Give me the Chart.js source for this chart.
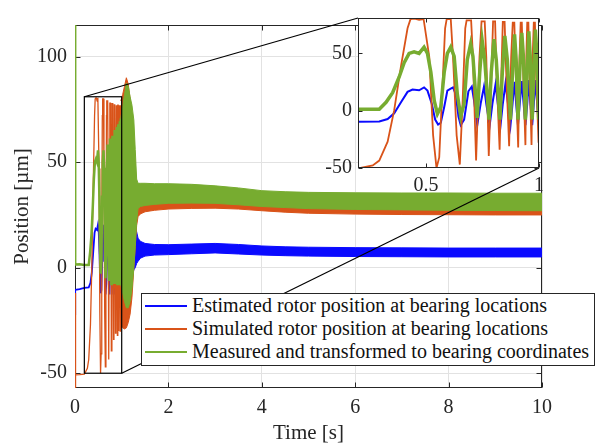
<!DOCTYPE html>
<html>
<head>
<meta charset="utf-8">
<script src="https://cdn.jsdelivr.net/npm/chart.js@4.4.1/dist/chart.umd.min.js"></script>
<style>
  html, body { margin: 0; padding: 0; background: #fff; }
  #wrap { position: relative; width: 603px; height: 448px; overflow: hidden; }
  #main { position: absolute; left: 0; top: 0; }
  #inset { position: absolute; left: 290px; top: 0; }
  #legend {
    position: absolute; left: 141px; top: 293px; width: 452px; height: 71px;
    background: #fff; border: 1px solid #262626;
    font-family: 'Liberation Serif', 'Times New Roman', serif; font-size: 20px; color: #111;
  }
  .row { position: absolute; left: 0; height: 23px; line-height: 23px; white-space: nowrap; }
  .row i { position: absolute; left: 3px; top: 11px; width: 42px; height: 2px; }
  .row span { position: absolute; left: 50px; top: 0; }
</style>
</head>
<body>
<div id="wrap">
  <canvas id="main" width="603" height="448"></canvas>
  <canvas id="inset" width="260" height="200"></canvas>
  <div id="legend">
    <div class="row" style="top:0px"><i style="background:#0a0aff"></i><span>Estimated rotor position at bearing locations</span></div>
    <div class="row" style="top:23px"><i style="background:#d95319"></i><span>Simulated rotor position at bearing locations</span></div>
    <div class="row" style="top:46px"><i style="background:#77ac30"></i><span>Measured and transformed to bearing coordinates</span></div>
  </div>
</div>
<script>
// axis ranges and ticks
const xRange = [0, 10];
const yRange = [-57, 115];
const xTicks = [0, 2, 4, 6, 8, 10];
const yTicks = [-50, 0, 50, 100];
const insetX = [0.2, 1];
const insetY = [-50, 81];
const insetXTicks = [0.5, 1];
const insetYTicks = [-50, 0, 50];

// start-up transient, read point by point (t [s], position [um])
const bluePts = [
  [0, -22], [0.004, -10.5], [0.1, -10.2], [0.199, -9.6], [0.294, -9.3], [0.331, -7.2], [0.36, -2.2],
  [0.39, 7.4], [0.419, 16.5], [0.441, 18.5], [0.47, 17.9], [0.492, 20.4], [0.507, 17.6], [0.526, 6.1],
  [0.541, -7.7], [0.554, -12.1], [0.566, -10.5], [0.581, 3.3], [0.595, 17.6], [0.61, 19.3], [0.62, 20.4],
  [0.632, 14.3], [0.644, -5], [0.654, -12.7], [0.669, -7.7], [0.688, 17], [0.703, 21.2], [0.713, 8.8],
  [0.727, -12.7], [0.742, 6.1], [0.757, 21.2], [0.767, 6.1], [0.782, -12.7], [0.794, 6.1], [0.808, 23.1],
  [0.818, 6.1], [0.83, -12.7], [0.84, 6.1], [0.852, 24], [0.863, 6.1], [0.874, -12.7], [0.883, 6.1],
  [0.892, 25.3], [0.899, 6.1], [0.907, -12.7], [0.915, 6.1], [0.924, 25.9], [0.932, 6.1], [0.94, -12.7],
  [0.948, 6.1], [0.955, 26.7], [0.962, 6.1], [0.97, -12.7], [0.977, 6.1], [0.984, 26.7], [0.992, 6.1],
  [0.999, -12.7]
];
const orangePts = [
  [0, -12], [0.003, -62], [0.02, -50.8], [0.1, -50.7], [0.2, -50.4], [0.265, -47.7], [0.294, -43.5],
  [0.331, -27], [0.36, 0.5], [0.39, 39], [0.419, 72], [0.432, 80], [0.45, 80.5], [0.47, 79.5], [0.49, 80],
  [0.515, 47], [0.532, -21.5], [0.547, -50], [0.559, -40.8], [0.573, 19.8], [0.585, 72], [0.592, 80],
  [0.61, 80], [0.62, 47], [0.636, -21.5], [0.65, -47], [0.662, 6], [0.674, 72], [0.68, 79], [0.7, 79],
  [0.708, 47], [0.722, -43.5], [0.737, 47], [0.746, 78], [0.76, 78], [0.767, 47], [0.778, -39.4],
  [0.79, 33.6], [0.797, 78], [0.806, 78], [0.812, 33.6], [0.826, -34], [0.834, 33.6], [0.84, 77.5],
  [0.848, 77.5], [0.855, 33.6], [0.868, -31], [0.877, 47], [0.884, 77], [0.891, 77], [0.897, 33.6],
  [0.908, -32], [0.914, 47], [0.919, 77], [0.924, 77], [0.93, 33.6], [0.94, -30], [0.944, 47], [0.948, 77],
  [0.953, 77], [0.958, 33.6], [0.967, -30], [0.972, 47], [0.977, 77], [0.982, 77], [0.987, 33.6],
  [0.998, -28]
];
const greenPts = [
  [0, 120], [0.004, 1.5], [0.1, 1.6], [0.199, 1.3], [0.294, 1.3], [0.324, 7.4], [0.353, 15.7],
  [0.382, 29.5], [0.404, 41.9], [0.426, 50.1], [0.448, 51.5], [0.47, 50.1], [0.492, 55.6], [0.507, 50.1],
  [0.522, 33.6], [0.537, 8.8], [0.551, -2.8], [0.566, 3.3], [0.581, 33.6], [0.595, 50.1], [0.61, 55.6],
  [0.625, 47.4], [0.639, 14.3], [0.654, -5], [0.669, 6.1], [0.683, 44.6], [0.698, 58.4], [0.708, 47.4],
  [0.727, -6.3], [0.738, 33.6], [0.749, 61.2], [0.76, 44.6], [0.779, -7.7], [0.789, 33.6], [0.801, 62.5],
  [0.811, 44.6], [0.827, -7.7], [0.838, 33.6], [0.849, 65.3], [0.86, 44.6], [0.874, -7.7], [0.883, 33.6],
  [0.892, 66.7], [0.899, 44.6], [0.907, -7.7], [0.915, 33.6], [0.924, 68], [0.932, 44.6], [0.94, -7.7],
  [0.948, 33.6], [0.955, 69.4], [0.962, 44.6], [0.97, -7.7], [0.977, 33.6], [0.984, 70.8], [0.992, 44.6],
  [0.999, -7.7]
];

// noisy part after 1 s: upper / lower envelope of each signal
const bandT    = [0.98, 1.02, 1.06, 1.1, 1.14, 1.18, 1.22, 1.26, 1.29, 1.32, 1.35, 1.4, 1.5, 1.7, 2.0, 2.5, 3.0, 3.5, 4.0, 4.5, 5.0, 6.0, 7.0, 8.0, 9.0, 10.0];
const greenHi  = [71, 76, 82, 87.5, 86, 81, 77, 70, 56, 42, 40, 40, 40, 39.8, 39.8, 39.5, 38.8, 37.8, 36.5, 36, 35.7, 35.5, 35.4, 35.4, 35.3, 35.3];
const greenLo  = [-8, -12, -16, -19, -19, -16, -10, 0, 10, 22, 28, 29, 29.5, 30, 30.5, 30.6, 30.5, 29.8, 29, 28.5, 28, 27.6, 27.4, 27.2, 27.1, 27];
const orangeHi = [79, 82, 86, 90, 87, 80, 72, 62, 48, 36, 31, 31, 31, 31.5, 32, 32, 32, 31.5, 30.5, 30, 29.5, 29, 29, 28.8, 28.6, 28.5];
const orangeLo = [-28, -28.5, -29, -28.5, -26, -22, -14, 0, 10, 20, 24.2, 25.5, 26.5, 27.2, 27.8, 28.1, 28.2, 27.8, 27, 26.3, 25.8, 25.4, 25.2, 25.1, 25, 25];
const blueHi   = [26, 26, 26, 26, 25, 24, 22, 21, 20, 17, 14, 12.5, 11.5, 11, 10.9, 11.2, 11.5, 11, 10.3, 9.9, 9.7, 9.5, 9.4, 9.3, 9.3, 9.3];
const blueLo   = [-13, -14, -15, -15, -14, -10, -5, -1, 0, 2, 3, 4.5, 5.5, 6, 6.2, 6.6, 7, 6.5, 6, 5.7, 5.5, 5.3, 5.2, 5.1, 5.1, 5.1];

const BLUE = '#0a0aff', ORANGE = '#d95319', GREEN = '#77ac30';
const AXIS = '#262626';
const INSET_LEFT = 290, INSET_TOP = 0;

Chart.defaults.font.family = "'Liberation Serif', 'Times New Roman', serif";
Chart.defaults.color = AXIS;

const pts = arr => arr.map(([x, y]) => ({ x, y }));
const band = vals => bandT.map((t, i) => ({ x: t, y: vals[i] }));
const line = (ctx, x0, y0, x1, y1) => { ctx.beginPath(); ctx.moveTo(x0, y0); ctx.lineTo(x1, y1); ctx.stroke(); };

// box round the axes with inward tick marks
function drawBox(chart, len) {
    const { ctx, chartArea: a, scales: { x, y } } = chart;
    const L = Math.round(a.left) + 0.5, R = Math.round(a.right) - 0.5;
    const T = Math.round(a.top) + 0.5, B = Math.round(a.bottom) - 0.5;
    ctx.save();
    ctx.strokeStyle = AXIS;
    ctx.lineWidth = 1;
    x.ticks.forEach(t => {
        const px = Math.round(x.getPixelForValue(t.value)) + 0.5;
        line(ctx, px, B, px, B - len);
        line(ctx, px, T, px, T + len);
    });
    y.ticks.forEach(t => {
        const py = Math.round(y.getPixelForValue(t.value)) + 0.5;
        line(ctx, L, py, L + len, py);
        line(ctx, R, py, R - len, py);
    });
    ctx.strokeRect(L, T, R - L, B - T);
    ctx.restore();
}

const mainBox = {
    id: 'mainBox',
    beforeDraw(chart) {
        const { ctx, width, height } = chart;
        ctx.save();
        ctx.fillStyle = '#fff';
        ctx.fillRect(0, 0, width, height);
        ctx.restore();
    },
    beforeDatasetsDraw(chart) { drawBox(chart, 5); }
};

const insetBox = {
    id: 'insetBox',
    beforeDraw(chart) {
        const { ctx, chartArea: a } = chart;
        ctx.save();
        ctx.fillStyle = '#fff';
        ctx.fillRect(a.left, a.top, a.right - a.left, a.bottom - a.top);
        ctx.restore();
    },
    afterDatasetsDraw(chart) { drawBox(chart, 4); }
};

let insetChart;
const zoomBox = {
    id: 'zoomBox',
    afterDraw(chart) {
        const { ctx, scales: { x, y } } = chart;
        const x0 = x.getPixelForValue(insetX[0]), x1 = x.getPixelForValue(insetX[1]);
        const y0 = y.getPixelForValue(insetY[0]), y1 = y.getPixelForValue(insetY[1]);
        const ia = insetChart.chartArea;
        ctx.save();
        ctx.strokeStyle = '#000';
        ctx.lineWidth = 1.2;
        ctx.strokeRect(x0, y1, x1 - x0, y0 - y1);
        line(ctx, x0, y1, INSET_LEFT + ia.left, INSET_TOP + ia.top);
        line(ctx, x1, y0, INSET_LEFT + ia.right, INSET_TOP + ia.bottom);
        ctx.restore();
    }
};

const lineSet = (data, color, width) => ({
    data, borderColor: color, backgroundColor: color, borderWidth: width, fill: false
});
const bandSet = (data, color, fill) => ({
    data, borderColor: color, backgroundColor: color, borderWidth: 1, fill
});

function axisOpts(range, ticks, afterFit, extra) {
    return Object.assign({
        type: 'linear', min: range[0], max: range[1],
        afterBuildTicks: s => { s.ticks = ticks.map(v => ({ value: v })); },
        afterFit,
        border: { display: false }
    }, extra);
}

const tickFont = (padding) => ({
    font: { size: 20 }, color: AXIS, padding, maxRotation: 0,
    callback: v => String(v)
});

// inset first, the main chart reads its position for the connector lines
insetChart = new Chart(document.getElementById('inset'), {
    type: 'line',
    data: {
        datasets: [
            lineSet(pts(greenPts), GREEN, 3.5),
            lineSet(pts(orangePts), ORANGE, 1.8),
            lineSet(pts(bluePts), BLUE, 2)
        ]
    },
    options: {
        responsive: false,
        animation: false,
        layout: { padding: { top: 9, right: 10, left: 0, bottom: 0 } },
        plugins: { legend: { display: false }, tooltip: { enabled: false } },
        elements: { point: { radius: 0 }, line: { tension: 0 } },
        scales: {
            x: axisOpts(insetX, insetXTicks, s => { s.height = 32; }, {
                grid: { display: false, drawTicks: false },
                ticks: tickFont(6)
            }),
            y: axisOpts(insetY, insetYTicks, s => { s.width = 68; }, {
                grid: { display: false, drawTicks: false },
                ticks: tickFont(6)
            })
        }
    },
    plugins: [insetBox]
});

new Chart(document.getElementById('main'), {
    type: 'line',
    data: {
        datasets: [
            bandSet(band(greenHi), GREEN, '+1'),
            bandSet(band(greenLo), GREEN, false),
            lineSet(pts(greenPts), GREEN, 2.5),
            bandSet(band(orangeHi), ORANGE, '+1'),
            bandSet(band(orangeLo), ORANGE, false),
            lineSet(pts(orangePts), ORANGE, 1.3),
            bandSet(band(blueHi), BLUE, '+1'),
            bandSet(band(blueLo), BLUE, false),
            lineSet(pts(bluePts), BLUE, 1.8)
        ]
    },
    options: {
        responsive: false,
        animation: false,
        layout: { padding: { top: 25, right: 61, left: 0, bottom: 0 } },
        plugins: { legend: { display: false }, tooltip: { enabled: false } },
        elements: { point: { radius: 0 }, line: { tension: 0 } },
        scales: {
            x: axisOpts(xRange, xTicks, s => { s.height = 60; }, {
                grid: { color: '#e2e2e2', drawTicks: false },
                ticks: tickFont(8),
                title: { display: true, text: 'Time [s]', font: { size: 21 }, color: AXIS, padding: { top: 0, bottom: 2 } }
            }),
            y: axisOpts(yRange, yTicks, s => { s.width = 75; }, {
                grid: { color: '#e2e2e2', drawTicks: false },
                ticks: tickFont(8),
                title: { display: true, text: 'Position [µm]', font: { size: 21 }, color: AXIS, padding: { top: 10, bottom: 0 } }
            })
        }
    },
    plugins: [mainBox, zoomBox]
});
</script>
</body>
</html>
